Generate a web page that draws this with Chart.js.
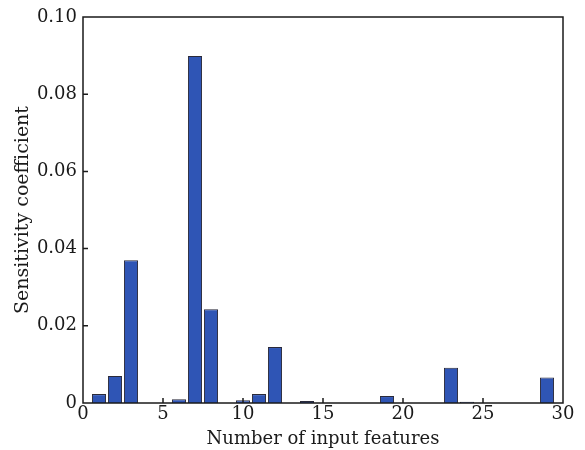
<!DOCTYPE html>
<html>
<head>
<meta charset="utf-8">
<script src="https://cdn.jsdelivr.net/npm/chart.js@4.4.0/dist/chart.umd.min.js"></script>
<style>
  html, body { margin: 0; padding: 0; background: #fff; }
  #wrap { width: 585px; height: 450px; }
</style>
</head>
<body>
<div id="wrap"><canvas id="myChart"></canvas></div>
<script>
const features = [1, 2, 3, 4, 5, 6, 7, 8, 9, 10, 11, 12, 13, 14, 15, 16, 17, 18, 19, 20, 21, 22, 23, 24, 25, 26, 27, 28, 29]
const sensitivity = [0.0023, 0.007, 0.037, 0, 0, 0.001, 0.0899, 0.0243, 0, 0.0007, 0.0023, 0.0145, 0, 0.0005, 0, 0, 0, 0, 0.0018, 0, 0, 0, 0.0091, 0.0003, 0, 0, 0, 0, 0.0066]
const xTicks = [0, 5, 10, 15, 20, 25, 30]
const yTicks = [0, 0.02, 0.04, 0.06, 0.08, 0.10]

const serif = '"DejaVu Serif", "Liberation Serif", serif'

// box around the plot and the inward tick marks
const frame = {
    id: 'frame',
    afterDraw(chart) {
        const c = chart.ctx
        const a = chart.chartArea
        const x = chart.scales.x
        const y = chart.scales.y
        c.save()
        c.strokeStyle = '#1a1a1a'
        c.lineWidth = 1.5
        c.strokeRect(a.left, a.top, a.right - a.left, a.bottom - a.top)
        c.beginPath()
        xTicks.slice(1, -1).forEach(v => {
            const px = x.getPixelForValue(v)
            c.moveTo(px, a.bottom)
            c.lineTo(px, a.bottom - 5)
        })
        yTicks.slice(1, -1).forEach(v => {
            const py = y.getPixelForValue(v)
            c.moveTo(a.left, py)
            c.lineTo(a.left + 5, py)
        })
        c.stroke()
        c.restore()
    }
}

let ctx = document.getElementById('myChart')

new Chart(ctx, {
    type: 'bar',
    data: {
        datasets: [{
            data: features.map((f, i) => ({ x: f, y: sensitivity[i] })),
            backgroundColor: '#2f55b5',
            borderColor: '#2a2a3a',
            borderWidth: 1,
            borderSkipped: 'bottom',
            barPercentage: 0.88,
            categoryPercentage: 1
        }]
    },
    options: {
        responsive: true,
        maintainAspectRatio: false,
        animation: false,
        layout: {
            padding: { left: 0, top: 17, right: 22, bottom: 0 }
        },
        plugins: {
            legend: { display: false },
            tooltip: { enabled: false }
        },
        scales: {
            x: {
                type: 'linear',
                min: 0,
                max: 30,
                offset: false,
                afterBuildTicks: s => { s.ticks = xTicks.map(v => ({ value: v })) },
                afterFit: s => { s.height = 47 },
                grid: { display: false, drawTicks: false },
                border: { display: false },
                ticks: {
                    color: '#1a1a1a',
                    padding: 1,
                    font: { family: serif, size: 18 }
                },
                title: {
                    display: true,
                    text: 'Number of input features',
                    color: '#1a1a1a',
                    padding: 0,
                    font: { family: serif, size: 18 }
                }
            },
            y: {
                min: 0,
                max: 0.1,
                afterBuildTicks: s => { s.ticks = yTicks.map(v => ({ value: v })) },
                afterFit: s => { s.width = 83 },
                grid: { display: false, drawTicks: false },
                border: { display: false },
                ticks: {
                    color: '#1a1a1a',
                    padding: 6,
                    font: { family: serif, size: 18 },
                    callback: v => v === 0 ? '0' : v.toFixed(2)
                },
                title: {
                    display: true,
                    text: 'Sensitivity coefficient',
                    color: '#1a1a1a',
                    padding: { top: 12, bottom: 0 },
                    font: { family: serif, size: 19 }
                }
            }
        }
    },
    plugins: [frame]
})
</script>
</body>
</html>
